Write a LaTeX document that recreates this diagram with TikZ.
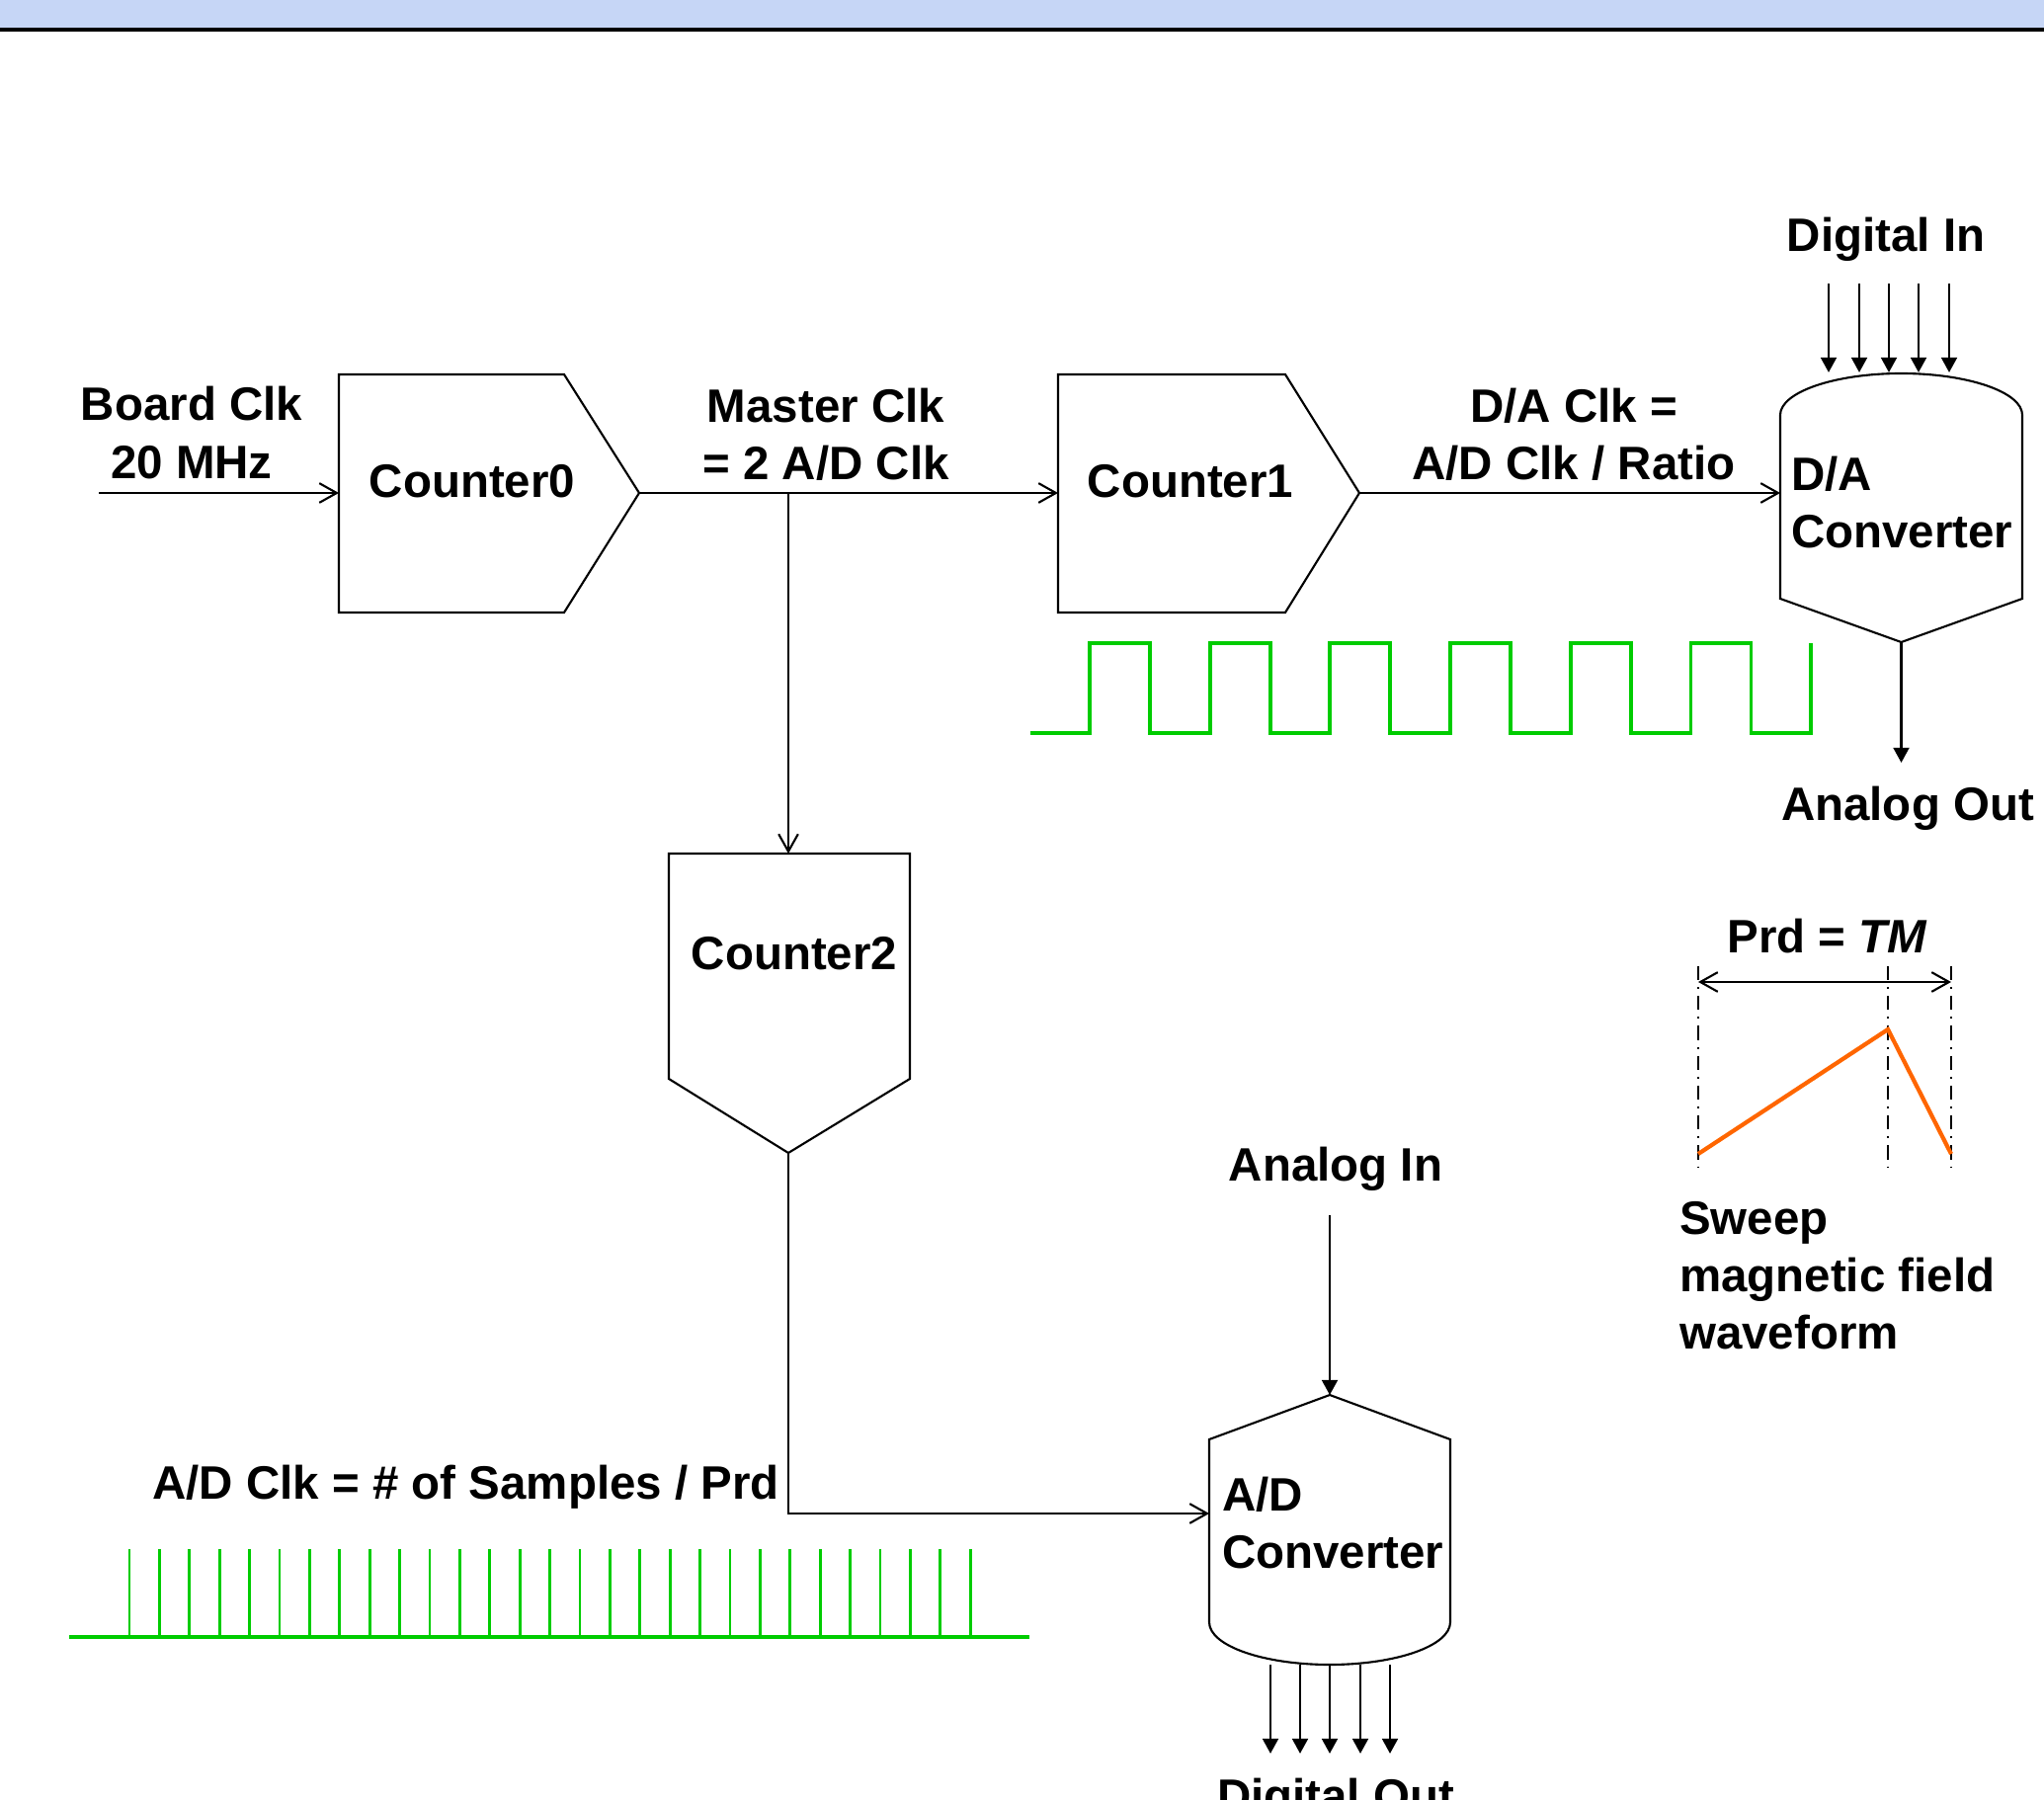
\documentclass[tikz,border=0pt]{standalone}
\usepackage{fontspec}
\setmainfont{Liberation Sans}
\usetikzlibrary{arrows.meta}
\definecolor{bandblue}{RGB}{198,214,246}
\definecolor{clkgreen}{RGB}{0,204,0}
\definecolor{sweeporange}{RGB}{255,102,0}

\begin{document}
\begin{tikzpicture}[x=0.01cm, y=-0.01cm, line width=0.6pt, >={Straight Barb[length=5pt,width=5.6pt]},
    lbl/.style={font=\fontsize{13.5}{16.6}\selectfont\bfseries, inner sep=0pt, align=center},
    bus/.style={line width=0.7pt, -{Triangle[length=4.3pt,width=4.5pt]}},
    clk/.style={draw=clkgreen, line width=1.1pt},
    guide/.style={line width=0.6pt, dash pattern=on 4pt off 2pt on 0.6pt off 2pt}]
  \useasboundingbox (0,0) rectangle (2069,1822);
  \fill[bandblue] (0,0) rectangle (2069,29);
  \draw[line width=0.9pt] (0,30) -- (2069,30);

  \draw (343,379) -- (571,379) -- (647,499) -- (571,620) -- (343,620) -- cycle;
  \draw (1071,379) -- (1301,379) -- (1376,499) -- (1301,620) -- (1071,620) -- cycle;
  \draw (677,864) -- (921,864) -- (921,1092) -- (798,1167) -- (677,1092) -- cycle;
  \draw (1802,420) .. controls (1802,397) and (1857,378) .. (1924.5,378) .. controls (1992,378) and (2047,397) .. (2047,420)
    -- (2047,606) -- (1924.5,650) -- (1802,606) -- cycle;
  \draw (1346,1412) -- (1468,1457) -- (1468,1642) .. controls (1468,1666) and (1413,1685) .. (1346,1685)
    .. controls (1279,1685) and (1224,1666) .. (1224,1642) -- (1224,1457) -- cycle;

  \node[lbl] (c0) at (478,487) {Counter0};
  \node[lbl] (c1) at (1205,487) {Counter1};
  \node[lbl] (c2) at (804,965) {Counter2};
  \node[lbl, align=left, anchor=north west] (dac) at (1812,461) {D/A\\Converter};
  \node[lbl, align=left, anchor=north west] (adc) at (1236,1494) {A/D\\Converter};

  \node[lbl] (bclk) at (194,438) {Board Clk\\20 MHz};
  \node[lbl] (mclk) at (836,440) {Master Clk\\= 2 A/D Clk};
  \node[lbl] (daclk) at (1593,440) {D/A Clk =\\A/D Clk / Ratio};
  \node[lbl, anchor=east] (adclk) at (790,1505) {A/D Clk = \# of Samples / Prd};
  \node[lbl] (digin) at (1909,242) {Digital In};
  \node[lbl] (anout) at (1931,818) {Analog Out};
  \node[lbl] (anin) at (1352,1183) {Analog In};
  \node[lbl, anchor=north] (digout) at (1352,1799) {Digital Out};
  \node[lbl] (prd) at (1850,948) {Prd = \textit{TM}};
  \node[lbl, align=left, anchor=north west] (sweep) at (1699,1215) {Sweep\\magnetic field\\waveform};

  \coordinate (bclkin) at (100,499);
  \coordinate (c0in) at (343,499);
  \coordinate (c0out) at (647,499);
  \coordinate (mtap) at (798,499);
  \coordinate (c1in) at (1071,499);
  \coordinate (c1out) at (1376,499);
  \coordinate (c2in) at (798,864);
  \coordinate (c2out) at (798,1167);
  \coordinate (dain) at (1802,499);
  \coordinate (daout) at (1924.5,650);
  \coordinate (anoutend) at (1924.5,772);
  \coordinate (anintop) at (1346,1230);
  \coordinate (adtop) at (1346,1412);
  \coordinate (adin) at (1224,1532);

  \draw[->] (bclkin) -- (c0in);
  \draw[->] (c0out) -- (c1in);
  \draw[->] (mtap) -- (c2in);
  \draw[->] (c1out) -- (dain);
  \draw[->] (c2out) |- (adin);
  \draw[bus] (daout) -- (anoutend);
  \draw[bus] (anintop) -- (adtop);
  \foreach \x in {1851,1882,1912,1942,1973}
    \draw[bus] (\x,287) -- (\x,377);
  \foreach \x in {1286,1316,1346,1377,1407}
    \draw[bus] (\x,1685) -- (\x,1775);

  \draw[clk] (1043,742) \foreach \k in {0,...,5} {
      -- ({1103+121.7*\k},742) -- ({1103+121.7*\k},651) -- ({1164+121.7*\k},651) -- ({1164+121.7*\k},742)}
    -- (1833,742) -- (1833,651);
  \draw[clk] (70,1657) -- (1042,1657);
  \foreach \k in {0,...,28}
    \draw[clk, line width=0.75pt] ({131+30.4*\k},1657) -- ({131+30.4*\k},1568);

  \foreach \x in {1719,1911,1975}
    \draw[guide] (\x,978) -- (\x,1182);
  \draw[<->] (1719,994) -- (1975,994);
  \draw[sweeporange, line width=1.2pt] (1719,1168) -- (1911,1042) -- (1975,1168);
\end{tikzpicture}
\end{document}
